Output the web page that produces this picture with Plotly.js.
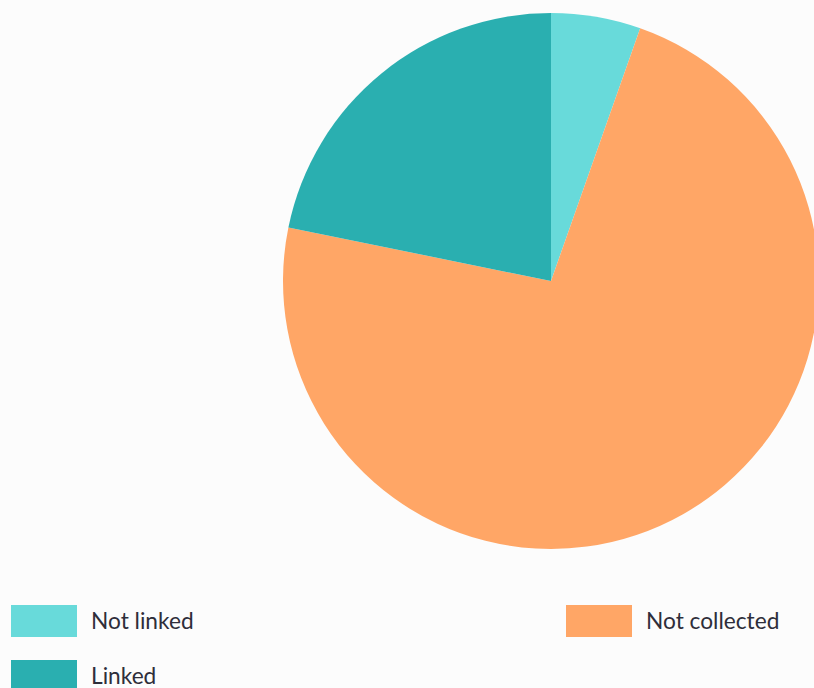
<!DOCTYPE html>
<html>
<head>
<meta charset="utf-8">
<script src="https://cdn.plot.ly/plotly-3.0.1.min.js"></script>
<style>
  html, body { margin: 0; padding: 0; background: #fcfcfc; overflow: hidden; width: 814px; height: 688px; }
  #chart { width: 830px; height: 688px; }
</style>
</head>
<body>
<div id="chart"></div>
<script>
const labels = ["Not linked", "Not collected", "Linked"];
const values = [5.4, 72.8, 21.8];
const colors = ["#68DADA", "#FFA666", "#2AAFB0"];

const W = 830, H = 688;
// legend slots (pixel positions): [left of swatch, top of swatch]
const legendSlots = [[11, 605], [566, 605], [11, 660]];
const swW = 66, swH = 32, textGap = 12;

const shapes = [];
const annotations = [];
labels.forEach((lab, i) => {
  const [lx, ty] = legendSlots[i];
  shapes.push({
    type: "rect", xref: "paper", yref: "paper",
    x0: lx / W, x1: (lx + swW) / W,
    y0: 1 - (ty + swH) / H, y1: 1 - ty / H,
    fillcolor: colors[i], line: { width: 0 }
  });
  annotations.push({
    xref: "paper", yref: "paper",
    x: (lx + swW + textGap) / W, y: 1 - (ty + swH / 2 - 1) / H,
    xanchor: "left", yanchor: "middle",
    text: lab, showarrow: false,
    font: { family: "Lato, sans-serif", size: 22.7, color: "#2e2e3a" }
  });
});

const trace = {
  type: "pie",
  labels: labels,
  values: values,
  marker: { colors: colors, line: { width: 0 } },
  sort: false,
  direction: "clockwise",
  rotation: 0,
  textinfo: "none",
  hoverinfo: "label+percent",
  showlegend: false,
  domain: { x: [283 / W, 819 / W], y: [1 - 549 / H, 1 - 13 / H] }
};

const layout = {
  width: W, height: H,
  margin: { l: 0, r: 0, t: 0, b: 0 },
  paper_bgcolor: "#fcfcfc",
  plot_bgcolor: "#fcfcfc",
  showlegend: false,
  shapes: shapes,
  annotations: annotations,
  font: { family: "Lato, sans-serif" }
};

Plotly.newPlot("chart", [trace], layout, { displayModeBar: false, staticPlot: true });
</script>
</body>
</html>
